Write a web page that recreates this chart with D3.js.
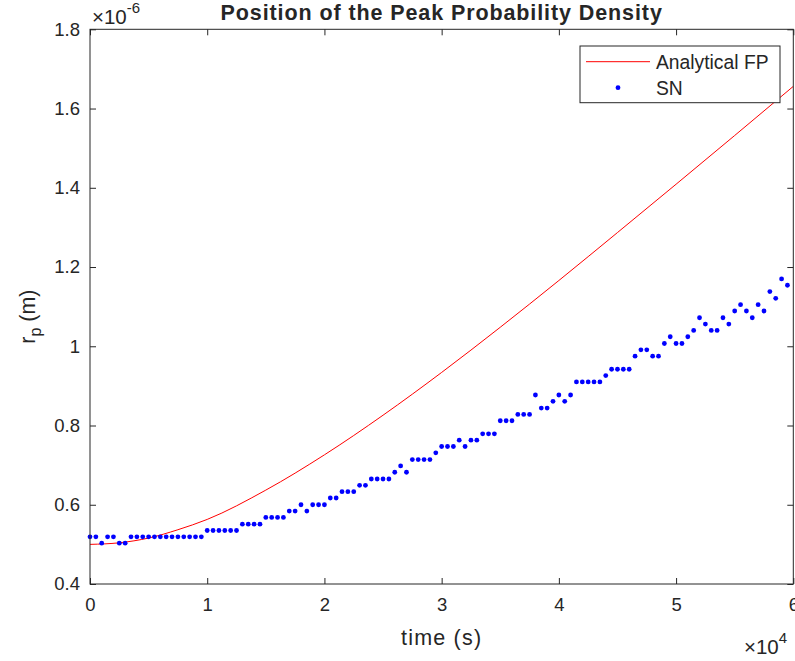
<!DOCTYPE html>
<html>
<head>
<meta charset="utf-8">
<script src="https://cdn.jsdelivr.net/npm/d3@7"></script>
<style>
  body { margin: 0; background: #fff; }
  svg text { font-family: "Liberation Sans", Arial, sans-serif; fill: #262626; }
</style>
</head>
<body>
<div id="chart"></div>
<script>
// SN samples: one every 500 s, r_p in units of 1e-6 m
const snTime = d3.range(0, 60000, 500);
const snR = [
  0.519, 0.519, 0.503, 0.519, 0.519, 0.503, 0.503, 0.519, 0.519, 0.519,
  0.519, 0.519, 0.519, 0.519, 0.519, 0.519, 0.519, 0.519, 0.519, 0.519,
  0.535, 0.535, 0.535, 0.535, 0.535, 0.535, 0.551, 0.551, 0.551, 0.551,
  0.568, 0.568, 0.568, 0.568, 0.584, 0.584, 0.600, 0.584, 0.600, 0.600,
  0.600, 0.617, 0.617, 0.633, 0.633, 0.633, 0.649, 0.649, 0.665, 0.665,
  0.665, 0.665, 0.682, 0.698, 0.682, 0.714, 0.714, 0.714, 0.714, 0.731,
  0.747, 0.747, 0.747, 0.763, 0.747, 0.763, 0.763, 0.779, 0.779, 0.779,
  0.812, 0.812, 0.812, 0.828, 0.828, 0.828, 0.877, 0.844, 0.844, 0.861,
  0.877, 0.861, 0.877, 0.910, 0.910, 0.910, 0.910, 0.910, 0.926, 0.942,
  0.942, 0.942, 0.942, 0.975, 0.991, 0.991, 0.975, 0.975, 1.007, 1.024,
  1.007, 1.007, 1.024, 1.040, 1.072, 1.056, 1.040, 1.040, 1.072, 1.056,
  1.089, 1.105, 1.089, 1.072, 1.105, 1.089, 1.138, 1.121, 1.170, 1.154
];

// Analytical FP curve
const fpTime = [0, 2500, 5000, 7500, 10000, 15000, 20000, 25000, 30000, 35000, 40000, 45000, 50000, 55000, 60000];
const fpR = [0.500, 0.504, 0.516, 0.537, 0.563, 0.637, 0.726, 0.826, 0.934, 1.048, 1.166, 1.287, 1.409, 1.532, 1.656];

const xTicks = [0, 10000, 20000, 30000, 40000, 50000, 60000];
const yTicks = [0.4, 0.6, 0.8, 1.0, 1.2, 1.4, 1.6, 1.8];

const W = 795, H = 661;
const margin = { top: 29.3, right: 1.7, bottom: 77, left: 90 };
const width = W - margin.left - margin.right;
const height = H - margin.top - margin.bottom;
const axisColor = '#262626';

const x = d3.scaleLinear().domain([0, 60000]).range([0, width]);
const y = d3.scaleLinear().domain([0.4, 1.8]).range([height, 0]);

const svg = d3.select('#chart')
  .append('svg')
  .attr('width', W)
  .attr('height', H);

const g = svg.append('g')
  .attr('transform', `translate(${margin.left},${margin.top})`);

// clip for data
g.append('clipPath').attr('id', 'clip')
  .append('rect').attr('width', width).attr('height', height);

// analytical curve
const line = d3.line()
  .x((d, i) => x(fpTime[i]))
  .y(d => y(d))
  .curve(d3.curveMonotoneX);

g.append('path')
  .datum(fpR)
  .attr('clip-path', 'url(#clip)')
  .attr('fill', 'none')
  .attr('stroke', '#ff0000')
  .attr('stroke-width', 1)
  .attr('d', line);

// SN dots
g.selectAll('.dot')
  .data(snR)
  .enter()
  .append('circle')
  .attr('class', 'dot')
  .attr('cx', (d, i) => x(snTime[i]))
  .attr('cy', d => y(d))
  .attr('r', 2.4)
  .attr('fill', '#0000ff');

// axes, MATLAB style: ticks inside, box on
function styleAxis(sel) {
  sel.select('.domain').remove();
  sel.selectAll('.tick line').attr('stroke', axisColor);
  sel.selectAll('.tick text').style('font-size', '18.5px').attr('fill', axisColor);
}

g.append('g')
  .attr('transform', `translate(0,${height})`)
  .call(d3.axisBottom(x).tickValues(xTicks).tickSize(-6).tickPadding(14)
    .tickFormat(d => d3.format('d')(d / 10000)))
  .call(styleAxis);

g.append('g')
  .call(d3.axisTop(x).tickValues(xTicks).tickSize(-6).tickFormat(''))
  .call(styleAxis);

g.append('g')
  .call(d3.axisLeft(y).tickValues(yTicks).tickSize(-6).tickPadding(10)
    .tickFormat(d => d3.format('~g')(d)))
  .call(styleAxis);

g.append('g')
  .attr('transform', `translate(${width},0)`)
  .call(d3.axisRight(y).tickValues(yTicks).tickSize(-6).tickFormat(''))
  .call(styleAxis);

g.append('rect')
  .attr('width', width)
  .attr('height', height)
  .attr('fill', 'none')
  .attr('stroke', axisColor)
  .attr('stroke-width', 1);

// exponent labels
const expTop = svg.append('text')
  .attr('x', margin.left + 2)
  .attr('y', 24)
  .style('font-size', '20.5px');
expTop.append('tspan').text('\u00d710');
expTop.append('tspan').attr('dy', -11).style('font-size', '15px').text('-6');

const expBottom = svg.append('text')
  .attr('x', 744)
  .attr('y', 654)
  .style('font-size', '20.5px');
expBottom.append('tspan').text('\u00d710');
expBottom.append('tspan').attr('dy', -11).style('font-size', '15px').text('4');

// title
svg.append('text')
  .attr('x', margin.left + width / 2)
  .attr('y', 19.5)
  .attr('text-anchor', 'middle')
  .style('font-size', '21.5px')
  .style('font-weight', 'bold')
  .style('letter-spacing', '0.9px')
  .attr('fill', '#000')
  .text('Position of the Peak Probability Density');

// axis labels
svg.append('text')
  .attr('x', margin.left + width / 2)
  .attr('y', 645)
  .attr('text-anchor', 'middle')
  .style('font-size', '21.5px')
  .style('letter-spacing', '1.2px')
  .text('time (s)');

const yl = svg.append('text')
  .attr('transform', `translate(35,${margin.top + height / 2 + 10}) rotate(-90)`)
  .attr('text-anchor', 'middle')
  .style('font-size', '21.5px');
yl.append('tspan').text('r');
yl.append('tspan').attr('dy', 6).style('font-size', '16px').text('p');
yl.append('tspan').attr('dy', -6).text(' (m)');

// legend
const lg = svg.append('g').attr('transform', 'translate(580,46)');
lg.append('rect')
  .attr('width', 200)
  .attr('height', 56.7)
  .attr('fill', '#fff')
  .attr('stroke', axisColor)
  .attr('stroke-width', 1);
lg.append('line')
  .attr('x1', 6).attr('x2', 70)
  .attr('y1', 15.7).attr('y2', 15.7)
  .attr('stroke', '#ff0000');
lg.append('circle')
  .attr('cx', 38).attr('cy', 41.7).attr('r', 2.4)
  .attr('fill', '#0000ff');
lg.append('text')
  .attr('x', 76).attr('y', 22.5)
  .style('font-size', '19.3px')
  .text('Analytical FP');
lg.append('text')
  .attr('x', 76).attr('y', 48.5)
  .style('font-size', '19.3px')
  .text('SN');
</script>
</body>
</html>
